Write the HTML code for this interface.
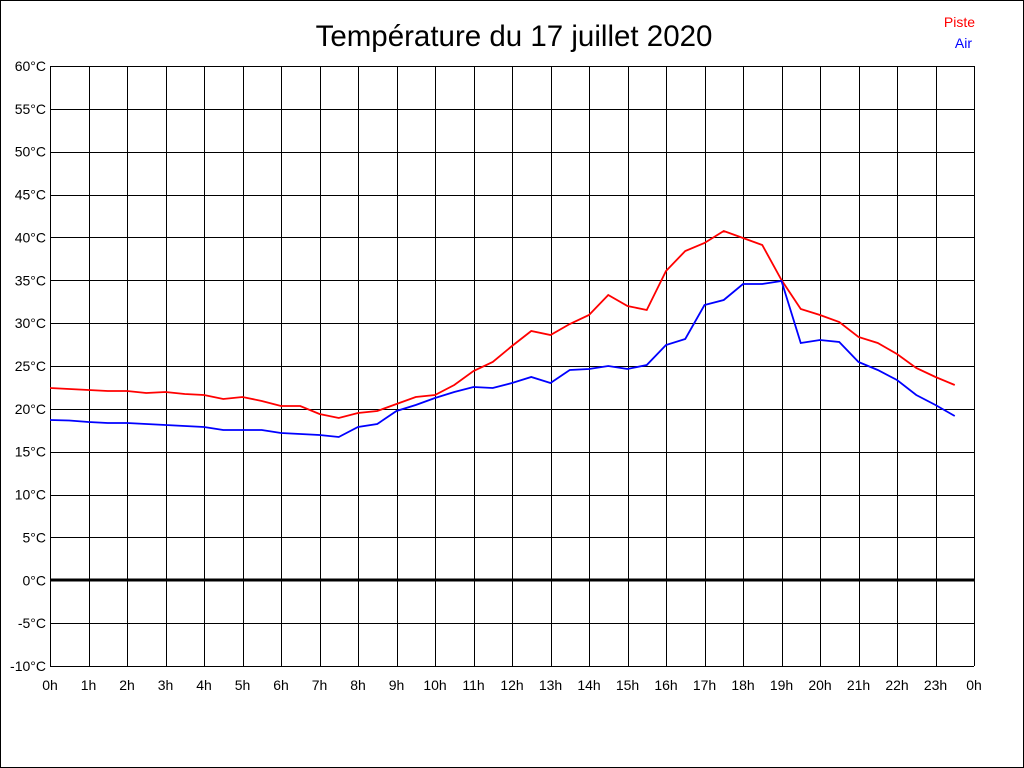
<!DOCTYPE html>
<html><head><style>body{margin:0;background:#fff}svg{display:block}</style></head><body>
<svg width="1024" height="768" xmlns="http://www.w3.org/2000/svg" font-family="Liberation Sans, sans-serif">
<rect x="0.5" y="0.5" width="1023" height="767" fill="#fff" stroke="#000"/>
<text x="514" y="46" font-size="29.5" text-anchor="middle">Température du 17 juillet 2020</text>
<text x="975" y="27" font-size="14" fill="#f00" text-anchor="end">Piste</text>
<text x="972" y="48" font-size="14" fill="#00f" text-anchor="end">Air</text>
<g id="grid" stroke="#000" stroke-width="1" shape-rendering="crispEdges"></g>
<g id="lab" font-size="14" fill="#000"></g>
<line x1="50" y1="580" x2="974" y2="580" stroke="#000" stroke-width="3"/>
<polyline id="r" fill="none" stroke="#f00" stroke-width="1.8"/>
<polyline id="b" fill="none" stroke="#00f" stroke-width="1.8"/>
</svg>
<script>
var g=document.getElementById('grid'),l=document.getElementById('lab'),s='';
for(var i=0;i<=24;i++){var x=50+i*38.5;s+='<line x1="'+(Math.round(x)+0.5)+'" y1="66" x2="'+(Math.round(x)+0.5)+'" y2="666"/>';}
for(var j=0;j<=14;j++){var y=66+j*600/14;s+='<line x1="50" y1="'+(Math.round(y)+0.5)+'" x2="974" y2="'+(Math.round(y)+0.5)+'"/>';}
g.innerHTML=s;s='';
for(var j=0;j<=14;j++){var y=66+j*600/14;s+='<text x="46" y="'+(y+5)+'" text-anchor="end">'+(60-5*j)+'°C</text>';}
for(var i=0;i<=24;i++){var x=50+i*38.5;s+='<text x="'+x+'" y="690" text-anchor="middle">'+(i%24)+'h</text>';}
l.innerHTML=s;
var R=[388,389,390,391,391,393,392,394,395,399,397,401,406,406,414,418,413,411,404,397,395,385,371,362,346,331,335,324,315,295,306,310,271,251,243,231,238,245,280,309,315,322,337,343,354,368,377,385];
var B=[420,420.5,422,423,423,424,425,426,427,430,430,430,433,434,435,437,427,424,411,405,398,392,387,388,383,377,383,370,369,366,369,365,345,339,305,300,284,284,281,343,340,342,362,370,380,395,405,416];
function p(a){return a.map(function(v,i){return (50+i*19.25)+','+v}).join(' ')}
document.getElementById('r').setAttribute('points',p(R));
document.getElementById('b').setAttribute('points',p(B));
</script>
</body></html>
